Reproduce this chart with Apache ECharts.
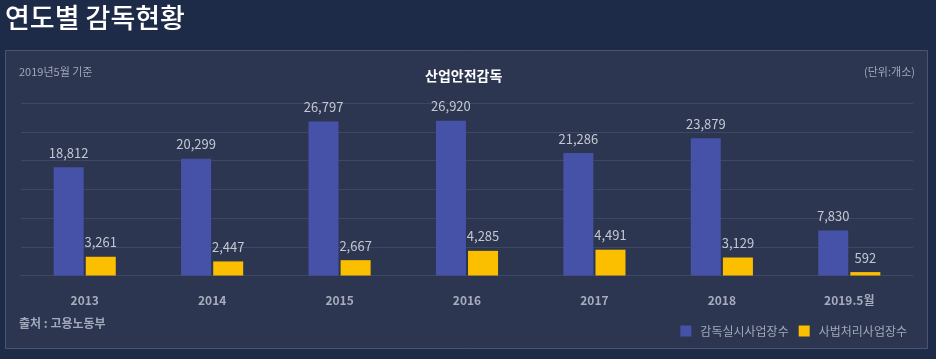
<!DOCTYPE html>
<html><head><meta charset="utf-8">
<script src="https://cdn.jsdelivr.net/npm/echarts@6/dist/echarts.min.js"></script>
<style>html,body{margin:0;padding:0;background:#1d2a48;}#c{width:936px;height:359px;}</style>
</head><body><div id="c"></div>
<script>
const categories = ['2013','2014','2015','2016','2017','2018','2019.5월'];
const inspected = [18812,20299,26797,26920,21286,23879,7830];
const prosecuted = [3261,2447,2667,4285,4491,3129,592];
const seriesNames = ['감독실시사업장수','사법처리사업장수'];
const F = '"Noto Sans CJK KR","Noto Sans",sans-serif';
const chart = echarts.init(document.getElementById('c'));
chart.setOption({
  backgroundColor: '#1d2a48',
  animation: false,
  graphic: [
    {type:'rect', left:5, top:50, shape:{width:922, height:298}, style:{fill:'#2c3650', stroke:'#4b5470', lineWidth:1}, z:-10},
    {type:'text', left:5, top:4, style:{text:'연도별 감독현황', fill:'#ffffff', font:'500 27px '+F}},
    {type:'text', left:19, top:66, style:{text:'2019년5월 기준', fill:'#a3a8ba', font:'11px '+F}},
    {type:'text', right:21, top:66, style:{text:'(단위:개소)', fill:'#a3a8ba', font:'11px '+F}},
    {type:'text', left:19, top:317, style:{text:'출처 : 고용노동부', fill:'#a3a8ba', font:'bold 12px '+F}}
  ],
  title: {text:'산업안전감독', left:420, top:64, textStyle:{color:'#ffffff', fontSize:14, fontWeight:'bold', fontFamily:F}},
  legend: {right:24, top:320, itemWidth:11, itemHeight:11, itemGap:10, icon:'rect',
    textStyle:{color:'#a3a8ba', fontSize:12, fontFamily:F, padding:[0,0,0,4]}, data: seriesNames},
  grid: {left:21, right:23, top:103, bottom:83.5},
  xAxis: {type:'category', data:categories, axisLine:{show:true, lineStyle:{color:'#3f4862'}}, axisTick:{show:false},
    axisLabel:{color:'#a6abbd', fontSize:12, fontWeight:'bold', fontFamily:F, margin:19}},
  yAxis: {type:'value', min:0, max:30000, interval:5000, axisLabel:{show:false}, axisLine:{show:false}, axisTick:{show:false},
    splitLine:{lineStyle:{color:'#3f4862', width:1}}},
  series: [
    {name:seriesNames[0], type:'bar', data:inspected, barWidth:30, barGap:'7%', itemStyle:{color:'#4652a8'},
     label:{show:true, position:'top', distance:8, color:'#c3c7d3', fontSize:13, fontFamily:F, formatter:p=>p.value.toLocaleString('en-US')}},
    {name:seriesNames[1], type:'bar', data:prosecuted, barWidth:30, itemStyle:{color:'#fcbf00'},
     label:{show:true, position:'top', distance:8, color:'#c3c7d3', fontSize:13, fontFamily:F, formatter:p=>p.value.toLocaleString('en-US')}}
  ]
});
</script></body></html>
